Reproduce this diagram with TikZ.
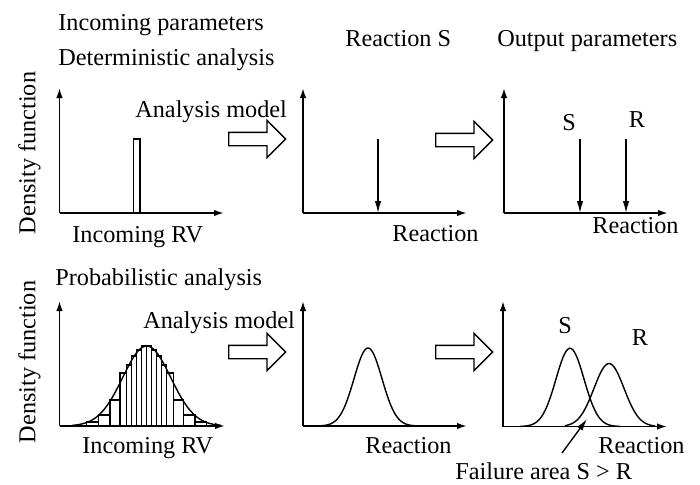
\documentclass[tikz,border=0pt]{standalone}
\usepackage{fontspec}
\setmainfont{Liberation Serif}
\usetikzlibrary{arrows.meta,shapes.arrows}

\begin{document}
\begin{tikzpicture}[scale=0.2]
\tikzstyle{every node}+=[inner sep=0pt, font=\fontsize{13.8}{16}\selectfont]
\tikzstyle{axis}=[black, line width=1pt, -{Latex[length=2mm,width=1.3mm]}]
\tikzstyle{load}=[black, line width=0.8pt, -{Latex[length=2.4mm,width=1.3mm]}]
\tikzstyle{curve}=[black, line width=0.8pt, smooth, samples=60]
\tikzstyle{hollow}=[draw=black, line width=0.8pt, single arrow, single arrow head extend=0.24cm, inner xsep=0pt, inner ysep=0.12cm, minimum height=1.14cm, anchor=tail]
\useasboundingbox (0,0) rectangle (70,-48.4);
% headings
\node [anchor=base west] (inpar) at (5.8,-3.0) {Incoming parameters};
\node [anchor=base west] (determ) at (5.8,-6.5) {Deterministic analysis};
\node [anchor=base west] (reacS) at (34.5,-4.6) {Reaction S};
\node [anchor=base west] (outpar) at (49.7,-4.6) {Output parameters};
\node [anchor=base west] (prob) at (5.5,-28.5) {Probabilistic analysis};
\node [rotate=90] (dens1) at (2.95,-15.3) {Density function};
\node [rotate=90] (dens2) at (2.95,-36.2) {Density function};
% axes
\coordinate (oA) at (5.95,-21.3);
\coordinate (yA) at (5.95,-8.8);
\coordinate (xA) at (22.4,-21.3);
\coordinate (oB) at (30.3,-21.3);
\coordinate (yB) at (30.3,-8.8);
\coordinate (xB) at (46.7,-21.3);
\coordinate (oC) at (50.4,-21.3);
\coordinate (yC) at (50.4,-8.8);
\coordinate (xC) at (66.8,-21.3);
\coordinate (oD) at (5.95,-42.6);
\coordinate (yD) at (5.95,-30.1);
\coordinate (xD) at (22.5,-42.6);
\coordinate (oE) at (30.3,-42.6);
\coordinate (yE) at (30.3,-30.1);
\coordinate (xE) at (46.7,-42.6);
\coordinate (oF) at (50.3,-42.65);
\coordinate (yF) at (50.3,-30.1);
\coordinate (xF) at (66.7,-42.65);
\draw [axis] (oA) -- (yA);
\draw [axis] (oA) -- (xA);
\draw [axis] (oB) -- (yB);
\draw [axis] (oB) -- (xB);
\draw [axis] (oC) -- (yC);
\draw [axis] (oC) -- (xC);
\draw [axis] (oD) -- (yD);
\draw [axis] (oD) -- (xD);
\draw [axis] (oE) -- (yE);
\draw [axis] (oE) -- (xE);
\draw [axis] (oF) -- (yF);
\draw [axis] (oF) -- (xF);
% deterministic row
\draw [black, line width=0.8pt] (13.35,-21.3) rectangle (14.0,-13.9);
\node [anchor=base west] (rvA) at (7.2,-24.2) {Incoming RV};
\node [anchor=base west] (modA) at (13.5,-11.7) {Analysis model};
\node [hollow] (h1) at (22.8,-13.9) {};
\coordinate (sB0) at (37.8,-13.9);
\coordinate (sB1) at (37.8,-21.3);
\draw [load] (sB0) -- (sB1);
\node [anchor=base west] (reB) at (39.2,-24.17) {Reaction};
\node [hollow] (h2) at (43.5,-14.0) {};
\coordinate (sC0) at (58.0,-13.9);
\coordinate (sC1) at (58.0,-21.3);
\coordinate (rC0) at (62.6,-13.9);
\coordinate (rC1) at (62.6,-21.3);
\draw [load] (sC0) -- (sC1);
\draw [load] (rC0) -- (rC1);
\node [anchor=base] (labSC) at (56.9,-13.0) {S};
\node [anchor=base] (labRC) at (63.7,-12.77) {R};
\node [anchor=base west] (reC) at (59.2,-23.33) {Reaction};
% probabilistic row
\foreach \l/\r/\h in {-6.0/-4.83/0.4, -4.83/-3.67/1.1, -3.67/-2.67/2.6, -2.67/-2.0/5.3,
  -2.0/-1.5/6.1, -1.5/-1.0/7.0, -1.0/-0.5/7.6, -0.5/0/8.0}
{
  \draw [black, line width=0.6pt] ({14.67+\l},-42.6) rectangle ({14.67+\r},{-42.6+\h});
  \draw [black, line width=0.6pt] ({14.67-\l},-42.6) rectangle ({14.67-\r},{-42.6+\h});
}
\draw [curve, domain=7.2:22.1] plot (\x,{-42.6+8.0*exp(-(\x-14.67)*(\x-14.67)/11.52)});
\node [anchor=base west] (rvD) at (8.2,-45.3) {Incoming RV};
\node [anchor=base west] (modD) at (14.3,-32.8) {Analysis model};
\node [hollow] (h3) at (22.8,-35.2) {};
\draw [curve, domain=31.9:41.7] plot (\x,{-42.6+7.8*exp(-(\x-36.8)*(\x-36.8)/3.92)});
\node [anchor=base west] (reE) at (36.5,-45.3) {Reaction};
\node [hollow] (h4) at (43.5,-35.2) {};
\draw [curve, domain=52.0:62.0] plot (\x,{-42.65+7.83*exp(-(\x-57.0)*(\x-57.0)/3.92)});
\draw [curve, domain=56.5:65.5] plot (\x,{-42.65+6.3*exp(-(\x-60.9)*(\x-60.9)/4.5)});
\node [anchor=base] (labSF) at (56.5,-33.3) {S};
\node [anchor=base] (labRF) at (64.0,-34.5) {R};
\node [anchor=base west] (reF) at (59.8,-45.3) {Reaction};
\coordinate (f0) at (56.2,-45.3);
\coordinate (f1) at (58.7,-41.9);
\draw [load] (f0) -- (f1);
\node [anchor=base west] (fail) at (45.5,-47.9) {Failure area S > R};
\end{tikzpicture}
\end{document}
